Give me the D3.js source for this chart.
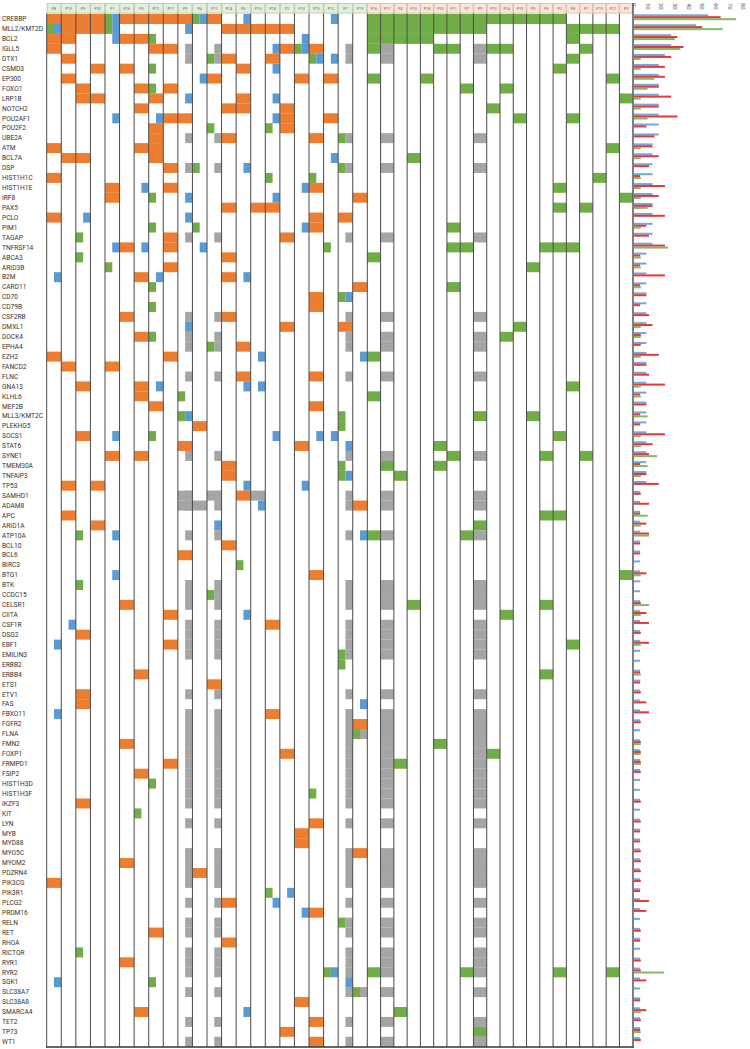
<!DOCTYPE html>
<html>
<head>
<meta charset="utf-8">
<script src="https://cdn.jsdelivr.net/npm/d3@7"></script>
<style>
  body { margin: 0; background: #fff; }
  svg { display: block; }
</style>
</head>
<body>
<svg id="chart"></svg>
<script>
// genes, top to bottom
const genes = ["CREBBP","MLL2/KMT2D","BCL2","IGLL5","DTX1","CSMD3","EP300","FOXO1","LRP1B","NOTCH2",
  "POU2AF1","POU2F2","UBE2A","ATM","BCL7A","DSP","HIST1H1C","HIST1H1E","IRF8","PAX5",
  "PCLO","PIM1","TAGAP","TNFRSF14","ABCA3","ARID3B","B2M","CARD11","CD70","CD79B",
  "CSF2RB","DMXL1","DOCK4","EPHA4","EZH2","FANCD2","FLNC","GNA13","KLHL6","MEF2B",
  "MLL3/KMT2C","PLEKHG5","SOCS1","STAT6","SYNE1","TMEM30A","TNFAIP3","TP53","SAMHD1","ADAM8",
  "APC","ARID1A","ATP10A","BCL10","BCL6","BIRC3","BTG1","BTK","CCDC15","CELSR1",
  "CIITA","CSF1R","DSG2","EBF1","EMILIN3","ERBB2","ERBB4","ETS1","ETV1","FAS",
  "FBXO11","FGFR2","FLNA","FMN2","FOXP1","FRMPD1","FSIP2","HIST1H3D","HIST1H3F","IKZF3",
  "KIT","LYN","MYB","MYD88","MYO5C","MYOM2","PDZRN4","PIK3CG","PIK3R1","PLCG2",
  "PRDM16","RELN","RET","RHOA","RICTOR","RYR1","RYR2","SGK1","SLC38A7","SLC38A8",
  "SMARCA4","TET2","TP73","WT1"];

// sample headers: green group (A) and pink group (B)
const samplesA = ["P8","P10","P5","P20","P1","P16","P3","P12","P17","P9","P4","P11","P14","P6","P15","P18","P2","P13","P19","P12","P7","P19"];
const samplesB = ["P16","P17","P4","P13","P18","P20","P11","P7","P9","P10","P14","P15","P5","P6","P2","P8","P1","P19","P12","P3"];

// calls per gene: o=orange, b=blue (right half), g=green (left half), y=grey (right half),
// Y=grey full, p=green in group B column. numbers are column indexes (ranges a-b)
const calls = [
  "o0-3 gb4 o5-9 gb10 o11 b13 b19 p0-14",
  "gb0 o1-3 gb4 b9 o12-16 p0-8 p15-18",
  "o0 o1 b4 o5 o6 g7 b17 p0-4 p15",
  "o0 o7 o8 b15 o16 gb17 o18 p0 p5 p6 p9 p10 p16",
  "o1 g11 o12 o15 gb18 b19 p15",
  "o3 o5 g7 o13 b15 p14",
  "o1 b10 o11 o17 o19 p0 p4 p18",
  "o2 o6 g7 o8 p7 p10",
  "o2 o3 o7 b9 o13 b15 p19",
  "o6 o12 o13 o16 p9",
  "b4 b7 o8 o9 b15 o16 o19 p11 p15",
  "o7 g11 g15 o16",
  "o7 o12 o18 g20",
  "o0 o6 o7 p18",
  "o1 o2 o7 b19 p3",
  "o8 g10 b13 g20",
  "o0 g15 g18 p17",
  "o4 b6 o8 b17 o18 p14",
  "o4 g7 b9 b15 o21 p19",
  "o12 o14 o15 p14 p16",
  "o0 b2 b9 o18 o20",
  "g7 g10 b17 o18 p6",
  "g2 o8 o16",
  "b4 o5 b6 o8 b10 g19 p6 p7 p13-15",
  "g2 o12 p0",
  "g4 o8 p12",
  "b0 o6 b7 o12 b13",
  "g7 o21 p6",
  "o18 gb20",
  "g7 o18",
  "o5 o12",
  "b9 o16 o20 p11",
  "o6 g7 p10",
  "g11 o13",
  "o0 o8 b14 b21 p0",
  "o1 o4",
  "o13 o18",
  "o2 o6 b7 b13 b14 p15",
  "o6 g9 p0",
  "o7 o18",
  "gb9 g20 p8 p12",
  "o10 g20",
  "o2 b4 g7 b15 b18 b19 p14",
  "o9 o17 b20 p5",
  "o4 o6 p6 p13 p16",
  "o12 g20 p1 p5",
  "o12 gb20 p2",
  "o1 o3 b13 b17",
  "Y9 Y11 o13 Y14",
  "Y9 Y10 b14 o21",
  "o1 p13 p14",
  "o3 b11 p8",
  "g2 b4 b21 p0 p7",
  "o12",
  "o9",
  "g13",
  "b4 o18 p19",
  "g2",
  "g11",
  "o5 p3 p13",
  "o8 b13 p10",
  "b1 o15",
  "o2",
  "b0 o8 p15",
  "g20",
  "g20",
  "o6 p13",
  "o11",
  "o2",
  "o2 b21",
  "b0 o15",
  "o21",
  "gy21",
  "o5 p5",
  "o16 p9",
  "o8 p2",
  "o6",
  "g7",
  "g18",
  "o2",
  "g6",
  "o18",
  "o17",
  "o17",
  "o21",
  "o5",
  "o10",
  "o0",
  "g15 b16",
  "o12 b15",
  "b17 o18",
  "g20",
  "o7",
  "o12",
  "g2",
  "o5",
  "gb19 p0 p7 p14 p18",
  "b0 g7 b20",
  "gy21",
  "o17",
  "o6 b13 p2",
  "o18",
  "o16 p8",
  "o18"
];

// genes not covered in some samples (grey)
const uncovered = ["IGLL5","DTX1","UBE2A","DSP","TAGAP","CSF2RB","DOCK4","EPHA4","FLNC","SYNE1",
  "SAMHD1","ADAM8","ATP10A","BTK","CCDC15","CELSR1","CSF1R","DSG2","EBF1","EMILIN3",
  "ETV1","FBXO11","FGFR2","FLNA","FMN2","FOXP1","FRMPD1","FSIP2","HIST1H3D","HIST1H3F",
  "IKZF3","LYN","MYO5C","MYOM2","PDZRN4","PIK3CG","PLCG2","RELN","RET","RICTOR",
  "RYR1","RYR2","SLC38A7","TET2","WT1"];
const uncoveredColsA = [9, 11, 20];
const uncoveredColsB = [1, 8];

// frequency bars (%)
const freqBlue = [54.5,45.5,27.3,27.3,22.7,18.2,18.2,18.2,18.2,18.2,
  18.2,18.2,18.2,13.6,13.6,13.6,13.6,13.6,13.6,13.6,
  13.6,13.6,13.6,13.6,9.1,9.1,9.1,9.1,9.1,9.1,
  9.1,9.1,9.1,9.1,9.1,9.1,9.1,9.1,9.1,9.1,
  9.1,9.1,9.1,9.1,9.1,9.1,9.1,9.1,4.5,4.5,
  4.5,4.5,4.5,4.5,4.5,4.5,4.5,4.5,4.5,4.5,
  4.5,4.5,4.5,4.5,4.5,4.5,4.5,4.5,4.5,4.5,
  4.5,4.5,4.5,4.5,4.5,4.5,4.5,4.5,4.5,4.5,
  4.5,4.5,4.5,4.5,4.5,4.5,4.5,4.5,4.5,4.5,
  4.5,4.5,4.5,4.5,4.5,4.5,4.5,4.5,4.5,4.5,
  4.5,4.5,4.5,4.5];
const freqRed = [63.6,50,31.8,36.4,27.3,22.7,22.7,18.2,27.3,18.2,
  31.8,9.1,15,13.6,18.2,11,4.5,22.7,18.2,13.6,
  22.7,9.1,11,22.7,4.5,4.5,22.7,4.5,9.1,4.5,
  11,13.6,5,5,18.2,9.1,11,22.7,4.5,9.1,
  4.5,4.5,22.7,13.6,11,4.5,9.1,18.2,5,11,
  4.5,9.1,11,4.5,4.5,0,9.1,0,0,5,
  9.1,11,5,11,0,0,4.5,4.5,5,9.1,
  11,5,0,5,5,5,5,0,0,5,
  0,5,4.5,4.5,5,5,5,5,4.5,11,
  9.1,0,5,4.5,0,5,5,9.1,0,4.5,
  9.1,5,4.5,5];
const freqGreen = [75,65,30,34,5,5,15,10,5,5,
  10,0,0,5,5,0,5,5,5,10,
  0,5,0,25,5,5,0,5,0,0,
  0,5,5,0,5,0,0,5,5,0,
  10,0,5,5,17,10,5,0,0,0,
  10,5,11,0,0,0,5,0,0,11,
  5,0,0,5,0,0,5,0,0,0,
  0,0,0,5,5,5,0,0,0,0,
  0,0,0,0,0,0,0,0,0,0,
  0,0,0,0,0,0,22,0,0,0,
  5,0,5,0];
const freqTicks = [0,10,20,30,40,50,60,70,80];

const W = 750, H = 1049;
const colors = {o: "#ed7d31", b: "#5b9bd5", g: "#70ad47", y: "#a5a5a5"};

const svg = d3.select("#chart").attr("width", W).attr("height", H);
svg.append("rect").attr("width", W).attr("height", H).attr("fill", "#fff");

const gridTop = 13.4, gridBottom = 1047;
const xA = d3.scaleBand().domain(d3.range(samplesA.length)).range([46.7, 367.3]).padding(0);
const xB = d3.scaleBand().domain(d3.range(samplesB.length)).range([367.3, 632.7]).padding(0);
const y = d3.scaleBand().domain(genes).range([14, 14 + genes.length * 9.93]).padding(0);
const xBar = d3.scaleLinear().domain([0, 80]).range([634, 743]);

// header boxes
const head = svg.append("g").attr("class", "header");
head.selectAll(".hA").data(samplesA).enter().append("rect")
  .attr("x", (d, i) => xA(i) + 0.4).attr("y", 3.5)
  .attr("width", xA.bandwidth() - 0.8).attr("height", 9.6)
  .attr("fill", "#e2efda").attr("stroke", "#a9b8a0").attr("stroke-width", 0.6);
head.selectAll(".hB").data(samplesB).enter().append("rect")
  .attr("x", (d, i) => xB(i) + 0.4).attr("y", 3.5)
  .attr("width", xB.bandwidth() - 0.8).attr("height", 9.6)
  .attr("fill", "#fce4d6").attr("stroke", "#c4aaa0").attr("stroke-width", 0.6);
head.selectAll(".tA").data(samplesA).enter().append("text")
  .attr("x", (d, i) => xA(i) + xA.bandwidth() / 2).attr("y", 9.6)
  .attr("text-anchor", "middle").attr("font-size", 3.6)
  .attr("font-family", "Roboto, sans-serif").attr("fill", "#666").text(d => d);
head.selectAll(".tB").data(samplesB).enter().append("text")
  .attr("x", (d, i) => xB(i) + xB.bandwidth() / 2).attr("y", 9.6)
  .attr("text-anchor", "middle").attr("font-size", 3.6)
  .attr("font-family", "Roboto, sans-serif").attr("fill", "#666").text(d => d);

// flatten cells
function parseCalls(str) {
  const out = [];
  str.split(/\s+/).filter(Boolean).forEach(tok => {
    const m = tok.match(/^([a-zA-Z]+)(\d+)(?:-(\d+))?$/);
    const a = +m[2], b = m[3] ? +m[3] : a;
    for (let c = a; c <= b; c++) out.push({code: m[1], col: c});
  });
  return out;
}

const rects = [];
genes.forEach((gene, gi) => {
  if (uncovered.includes(gene)) {
    uncoveredColsA.forEach(c => rects.push({gene, x: xA(c) + xA.bandwidth() / 2, w: xA.bandwidth() / 2, fill: colors.y}));
    uncoveredColsB.forEach(c => rects.push({gene, x: xB(c), w: xB.bandwidth(), fill: colors.y}));
  }
  parseCalls(calls[gi]).forEach(({code, col}) => {
    if (code === "p") {
      rects.push({gene, x: xB(col), w: xB.bandwidth(), fill: colors.g});
      return;
    }
    const x0 = xA(col), bw = xA.bandwidth(), hw = bw / 2;
    if (code === "o") rects.push({gene, x: x0, w: bw, fill: colors.o});
    else if (code === "Y") rects.push({gene, x: x0, w: bw, fill: colors.y});
    else {
      if (code.includes("g")) rects.push({gene, x: x0, w: hw, fill: colors.g});
      if (code.includes("b")) rects.push({gene, x: x0 + hw, w: hw, fill: colors.b});
      if (code.includes("y")) rects.push({gene, x: x0 + hw, w: hw, fill: colors.y});
    }
  });
});

svg.append("g").attr("class", "cells").selectAll("rect").data(rects).enter().append("rect")
  .attr("x", d => d.x).attr("y", d => y(d.gene))
  .attr("width", d => d.w).attr("height", y.bandwidth() + 0.05)
  .attr("fill", d => d.fill);

// column separators
const bounds = d3.range(samplesA.length).map(i => xA(i))
  .concat(d3.range(samplesB.length).map(i => xB(i)));
svg.append("g").attr("class", "grid").selectAll("line").data(bounds).enter().append("line")
  .attr("x1", d => d).attr("x2", d => d)
  .attr("y1", gridTop).attr("y2", gridBottom)
  .attr("stroke", "#4a4a4a").attr("stroke-width", 1);

svg.append("line").attr("x1", 46).attr("x2", 633.5)
  .attr("y1", gridBottom).attr("y2", gridBottom)
  .attr("stroke", "#333").attr("stroke-width", 1.6);

// gene labels
svg.append("g").attr("class", "labels").selectAll("text").data(genes).enter().append("text")
  .attr("x", 2).attr("y", d => y(d) + y.bandwidth() / 2 + 2.3)
  .attr("font-size", 6.6).attr("font-family", "Roboto, sans-serif")
  .attr("fill", "#333").text(d => d);

// frequency bars
const bars = svg.append("g").attr("class", "bars");
const series = [
  {vals: freqBlue, off: 0.3, color: "#6a9fd8"},
  {vals: freqRed, off: 2.2, color: "#e3262b"},
  {vals: freqGreen, off: 4.2, color: "#7cb356"}
];
series.forEach(s => {
  bars.selectAll(null).data(genes.map((g, i) => ({g, v: s.vals[i]})).filter(d => d.v > 0))
    .enter().append("rect")
    .attr("x", xBar(0)).attr("y", d => y(d.g) + s.off)
    .attr("width", d => xBar(d.v) - xBar(0)).attr("height", 2)
    .attr("fill", s.color).attr("opacity", 0.92);
});

// bar axis
svg.append("line").attr("x1", 633).attr("x2", 633).attr("y1", 3).attr("y2", 1048)
  .attr("stroke", "#555").attr("stroke-width", 1.5);
svg.append("g").attr("class", "ticks").selectAll("text").data(freqTicks).enter().append("text")
  .attr("transform", d => "translate(" + (xBar(d) - 1.8) + ",3) rotate(90)")
  .attr("font-size", 6).attr("font-family", "Roboto, sans-serif")
  .attr("fill", "#666").text(d => d);
</script>
</body>
</html>
